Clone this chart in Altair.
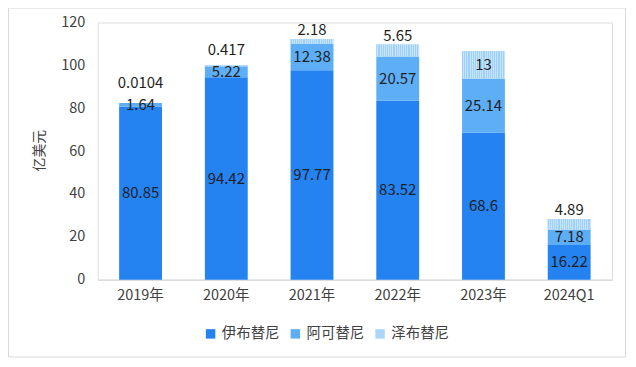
import altair as alt
import pandas as pd

categories = ["2019年", "2020年", "2021年", "2022年", "2023年", "2024Q1"]
series_names = ["伊布替尼", "阿可替尼", "泽布替尼"]
ibrutinib = [80.85, 94.42, 97.77, 83.52, 68.6, 16.22]
acalabrutinib = [1.64, 5.22, 12.38, 20.57, 25.14, 7.18]
zanubrutinib = [0.0104, 0.417, 2.18, 5.65, 13, 4.89]
label_texts = [
    ["80.85", "94.42", "97.77", "83.52", "68.6", "16.22"],
    ["1.64", "5.22", "12.38", "20.57", "25.14", "7.18"],
    ["0.0104", "0.417", "2.18", "5.65", "13", "4.89"],
]
colors = ["#2482F1", "#5EAEF6", "#A9D6FA"]

rows = []
for i, c in enumerate(categories):
    vals = [ibrutinib[i], acalabrutinib[i], zanubrutinib[i]]
    base = 0.0
    mids = []
    for k, v in enumerate(vals):
        y0, y1 = base, base + v
        mid = (y0 + y1) / 2
        mids.append(mid)
        if k == 2 and v < 10:
            pos = max(y1, mids[1] + 6)
            place = "top"
        else:
            pos = mid
            place = "mid"
        rows.append(dict(cat=c, series=series_names[k], order=k, v=v,
                         y0=y0, y1=y1, ly=pos, place=place,
                         label=label_texts[k][i]))
        base = y1
df = pd.DataFrame(rows)

font = "Noto Sans CJK SC"
xenc = alt.X("cat:N", sort=categories,
             scale=alt.Scale(paddingInner=0.5, paddingOuter=0.25),
             axis=alt.Axis(title=None, labelAngle=0, labelFontSize=14.5, labelColor="#404040",
                           labelFont=font, labelPadding=9, ticks=False,
                           domainColor="#D9D9D9", domainWidth=1.2))
yscale = alt.Scale(domain=[0, 120])

bars = alt.Chart(df).mark_bar().encode(
    x=xenc,
    y=alt.Y("y0:Q", scale=yscale,
            axis=alt.Axis(title="亿美元", values=[0, 20, 40, 60, 80, 100, 120], grid=False,
                          domain=False, ticks=False, labelFontSize=14.5, labelColor="#404040",
                          labelFont=font, labelPadding=13, titleFont=font, titleFontSize=14,
                          titleFontWeight="normal", titleColor="#404040", titleAngle=-90,
                          titleX=-58, titleY=128, titleAlign="center", titleBaseline="middle")),
    y2="y1:Q",
    color=alt.Color("series:N", sort=series_names,
                    scale=alt.Scale(domain=series_names, range=colors),
                    legend=alt.Legend(title=None, orient="none", legendX=106, legendY=305,
                                      direction="horizontal", symbolType="square",
                                      symbolSize=90, labelFont=font, labelFontSize=14.5,
                                      labelColor="#404040", columnPadding=8, symbolOffset=0)),
)

stops = []
n = 20
for j in range(n):
    a = j / n
    b = (j + 0.5) / n
    e = (j + 1) / n
    stops += [alt.GradientStop(offset=a, color="#9DD0FA"),
              alt.GradientStop(offset=b, color="#9DD0FA"),
              alt.GradientStop(offset=b, color="#C8E5FD"),
              alt.GradientStop(offset=e, color="#C8E5FD")]
stripes = alt.Chart(df).transform_filter(alt.datum.order == 2).mark_bar(
    fill=alt.LinearGradient(gradient="linear", stops=stops, x1=0, x2=1, y1=0, y2=0)
).encode(x=alt.X("cat:N", sort=categories), y=alt.Y("y0:Q", scale=yscale), y2="y1:Q")

mid_text = alt.Chart(df).transform_filter(alt.datum.place == "mid").mark_text(
    font=font, fontSize=15, color="#1F1F1F", baseline="middle"
).encode(x=alt.X("cat:N", sort=categories), y=alt.Y("ly:Q", scale=yscale), text="label:N")

top_text = alt.Chart(df).transform_filter(alt.datum.place == "top").mark_text(
    font=font, fontSize=15, color="#1F1F1F", baseline="bottom", dy=-1
).encode(x=alt.X("cat:N", sort=categories), y=alt.Y("ly:Q", scale=yscale), text="label:N")

frame = alt.Chart(pd.DataFrame({"a": [0]})).mark_rect(
    fill=None, stroke="#D9D9D9", strokeWidth=1
).encode(x=alt.value(-89.5), x2=alt.value(529.5), y=alt.value(-14.5), y2=alt.value(335.5))

chart = alt.layer(bars, stripes, mid_text, top_text, frame).properties(
    width=516, height=258,
    autosize=alt.AutoSizeParams(type="none"),
    padding={"left": 90, "top": 14, "right": 16, "bottom": 80},
).configure_view(stroke=None).configure(background="white")

chart.save("out.html", embed_options={"renderer": "svg", "actions": False})
